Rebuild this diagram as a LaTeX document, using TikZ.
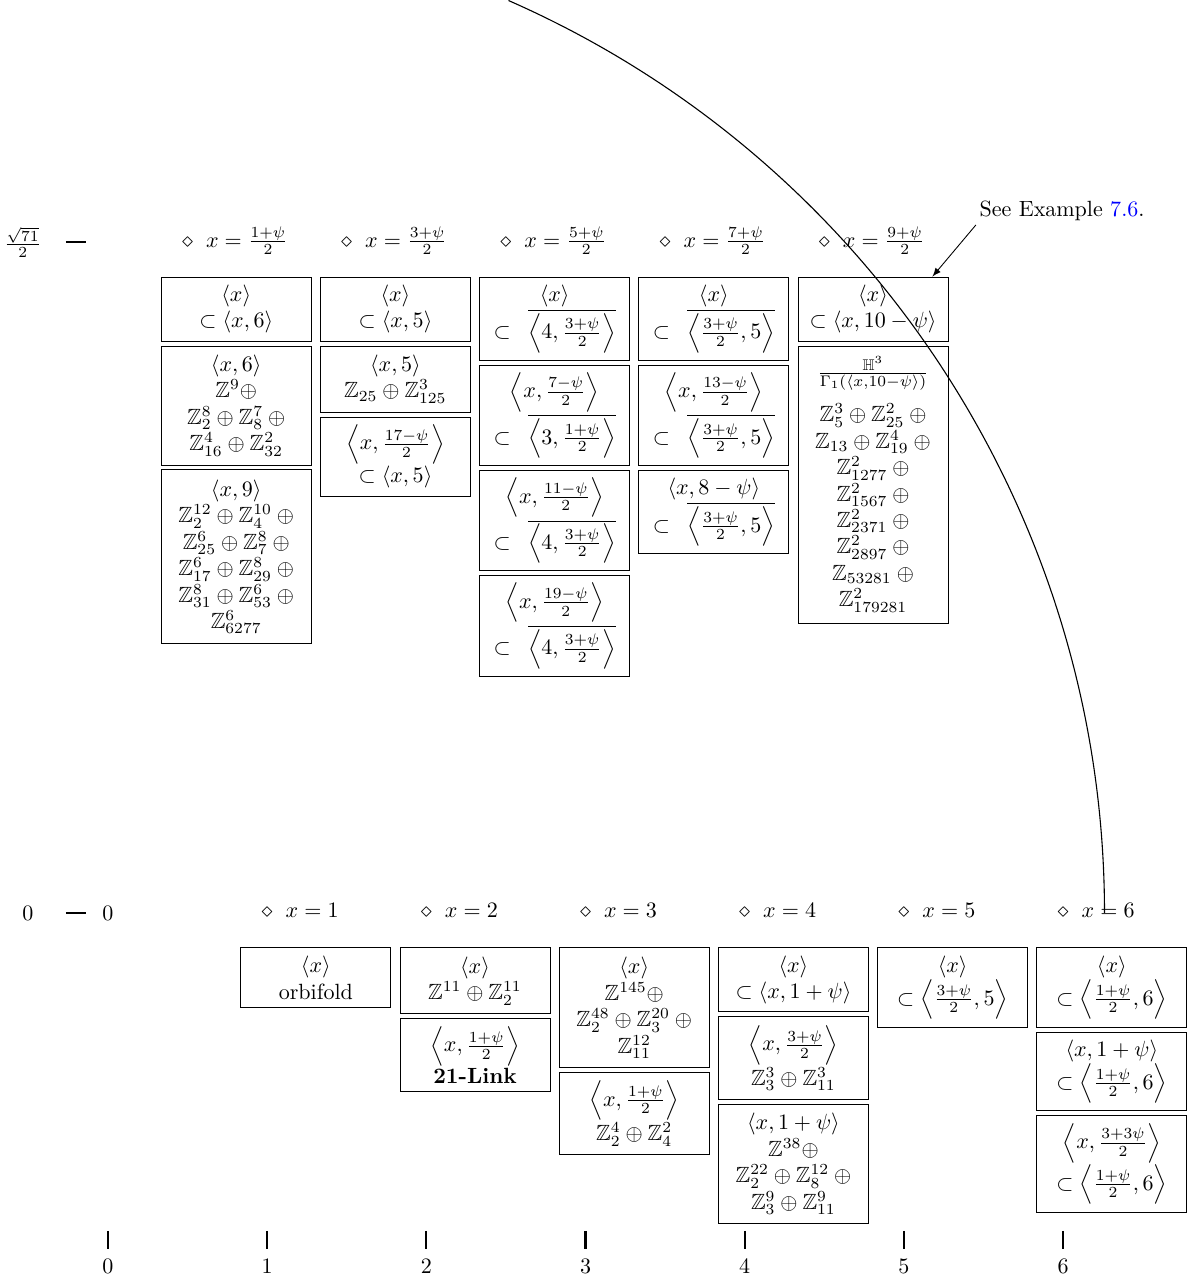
\documentclass[tikz,border=0pt]{standalone}
\usepackage{amsmath,amssymb}
\usetikzlibrary{positioning}
\newcommand{\Zb}{\mathbb{Z}}
\newcommand{\ang}[1]{\left\langle #1\right\rangle}
\newcommand{\hf}[1]{\frac{#1}{2}}
\newcommand{\ovang}[1]{\hspace{5pt}\overline{\left\langle #1\right\rangle}}
\begin{document}
\begin{tikzpicture}[x=2.54cm,y=2.54cm,
  cell/.style={draw, line width=0.4pt, minimum width=68.1pt, align=center, inner xsep=1pt, inner ysep=2pt, anchor=north},
  pt/.style={inner sep=0pt},
  lab/.style={inner sep=0pt, anchor=base west},
  tickmark/.style={line width=1pt},
  arcline/.style={line width=0.5pt},
  node distance=1.8pt]
\useasboundingbox (-0.678,-2.293) rectangle (6.803,5.735);

% left axis labels
\node[inner sep=0pt] (ys) at (-0.535,4.2131) {$\frac{\sqrt{71}}{2}$};
\draw[tickmark] (-0.264,4.2131) -- (-0.138,4.2131);
\node[inner sep=0pt] (y0) at (-0.503,0) {$0$};
\draw[tickmark] (-0.264,0) -- (-0.138,0);
\node (z0) at (0,0) {$0$};

% bottom axis
\foreach \i in {0,...,6} {
  \draw[tickmark] (\i,-1.997) -- (\i,-2.111);
  \node (ax\i) at (\i,-2.217) {$\i$};
}

% top row markers
\node[pt] (dt1) at (0.5,4.2131) {$\diamond$};
\node[lab] (lt1) at ([xshift=5.5pt]dt1.base east) {$x=\hf{1+\psi}$};
\node[pt] (dt2) at (1.5,4.2131) {$\diamond$};
\node[lab] (lt2) at ([xshift=5.5pt]dt2.base east) {$x=\hf{3+\psi}$};
\node[pt] (dt3) at (2.5,4.2131) {$\diamond$};
\node[lab] (lt3) at ([xshift=5.5pt]dt3.base east) {$x=\hf{5+\psi}$};
\node[pt] (dt4) at (3.5,4.2131) {$\diamond$};
\node[lab] (lt4) at ([xshift=5.5pt]dt4.base east) {$x=\hf{7+\psi}$};
\node[pt] (dt5) at (4.5,4.2131) {$\diamond$};
\node[lab] (lt5) at ([xshift=5.5pt]dt5.base east) {$x=\hf{9+\psi}$};

% bottom row markers
\foreach \i in {1,...,6} {
  \node[pt] (db\i) at (\i,0) {$\diamond$};
  \node[lab] (lb\i) at ([xshift=5.5pt]db\i.base east) {$x=\i$};
}

% top row boxes
\node[cell, minimum height=29.1pt] (t1a) at (0.806,3.997) {$\langle x\rangle$\\$\subset\langle x,6\rangle$};
\node[cell, minimum height=54pt, below=of t1a] (t1b) {$\langle x,6\rangle$\\$\Zb^{9}\oplus$\\$\Zb^{8}_{2}\oplus\Zb^{7}_{8}\:\oplus$\\$\Zb^{4}_{16}\oplus\Zb^{2}_{32}$};
\node[cell, minimum height=79pt, below=of t1b] (t1c) {$\langle x,9\rangle$\\$\Zb^{12}_{2}\oplus\Zb^{10}_{4}\:\oplus$\\$\Zb^{6}_{25}\oplus\Zb^{8}_{7}\:\oplus$\\$\Zb^{6}_{17}\oplus\Zb^{8}_{29}\:\oplus$\\$\Zb^{8}_{31}\oplus\Zb^{6}_{53}\:\oplus$\\$\Zb^{6}_{6277}$};

\node[cell, minimum height=29.1pt] (t2a) at (1.806,3.997) {$\langle x\rangle$\\$\subset\langle x,5\rangle$};
\node[cell, minimum height=30pt, below=of t2a] (t2b) {$\langle x,5\rangle$\\$\Zb_{25}\oplus\Zb^{3}_{125}$};
\node[cell, minimum height=35.9pt, below=of t2b] (t2c) {$\ang{x,\hf{17-\psi}}$\\$\subset\langle x,5\rangle$};

\node[cell, minimum height=37.7pt] (t3a) at (2.806,3.997) {$\langle x\rangle$\\$\subset\ovang{4,\hf{3+\psi}}$};
\node[cell, minimum height=45.8pt, below=of t3a] (t3b) {$\ang{x,\hf{7-\psi}}$\\$\subset\ovang{3,\hf{1+\psi}}$};
\node[cell, minimum height=45.4pt, below=of t3b] (t3c) {$\ang{x,\hf{11-\psi}}$\\$\subset\ovang{4,\hf{3+\psi}}$};
\node[cell, minimum height=45.8pt, below=of t3c] (t3d) {$\ang{x,\hf{19-\psi}}$\\$\subset\ovang{4,\hf{3+\psi}}$};

\node[cell, minimum height=37.7pt] (t4a) at (3.806,3.997) {$\langle x\rangle$\\$\subset\ovang{\hf{3+\psi},5}$};
\node[cell, minimum height=45.8pt, below=of t4a] (t4b) {$\ang{x,\hf{13-\psi}}$\\$\subset\ovang{\hf{3+\psi},5}$};
\node[cell, minimum height=37.7pt, below=of t4b] (t4c) {$\langle x,8-\psi\rangle$\\$\subset\ovang{\hf{3+\psi},5}$};

\node[cell, minimum height=29.1pt] (t5a) at (4.806,3.997) {$\langle x\rangle$\\$\subset\langle x,10-\psi\rangle$};
\node[cell, minimum height=125.7pt, below=of t5a] (t5b) {$\frac{\mathbb{H}^3}{\Gamma_1(\langle x,10-\psi\rangle)}$\\[5pt]$\Zb^{3}_{5}\oplus\Zb^{2}_{25}\:\oplus$\\$\Zb_{13}\oplus\Zb^{4}_{19}\:\oplus$\\$\Zb^{2}_{1277}\:\oplus$\\$\Zb^{2}_{1567}\:\oplus$\\$\Zb^{2}_{2371}\:\oplus$\\$\Zb^{2}_{2897}\:\oplus$\\$\Zb_{53281}\:\oplus$\\$\Zb^{2}_{179281}$};

% bottom row boxes
\node[cell, minimum height=27.2pt] (b1a) at (1.306,-0.216) {$\langle x\rangle$\\orbifold};

\node[cell, minimum height=30pt] (b2a) at (2.306,-0.216) {$\langle x\rangle$\\$\Zb^{11}\oplus\Zb^{11}_{2}$};
\node[cell, minimum height=33.1pt, below=of b2a] (b2b) {$\ang{x,\hf{1+\psi}}$\\\textbf{21-Link}};

\node[cell, minimum height=54.5pt] (b3a) at (3.306,-0.216) {$\langle x\rangle$\\$\Zb^{145}\oplus$\\$\Zb^{48}_{2}\oplus\Zb^{20}_{3}\:\oplus$\\$\Zb^{12}_{11}$};
\node[cell, minimum height=37.2pt, below=of b3a] (b3b) {$\ang{x,\hf{1+\psi}}$\\$\Zb^{4}_{2}\oplus\Zb^{2}_{4}$};

\node[cell, minimum height=29.1pt] (b4a) at (4.306,-0.216) {$\langle x\rangle$\\$\subset\langle x,1+\psi\rangle$};
\node[cell, minimum height=37.7pt, below=of b4a] (b4b) {$\ang{x,\hf{3+\psi}}$\\$\Zb^{3}_{3}\oplus\Zb^{3}_{11}$};
\node[cell, minimum height=54pt, below=of b4b] (b4c) {$\langle x,1+\psi\rangle$\\$\Zb^{38}\oplus$\\$\Zb^{22}_{2}\oplus\Zb^{12}_{8}\:\oplus$\\$\Zb^{9}_{3}\oplus\Zb^{9}_{11}$};

\node[cell, minimum height=36.3pt] (b5a) at (5.306,-0.216) {$\langle x\rangle$\\$\subset\ang{\hf{3+\psi},5}$};

\node[cell, minimum height=36.3pt] (b6a) at (6.306,-0.216) {$\langle x\rangle$\\$\subset\ang{\hf{1+\psi},6}$};
\node[cell, minimum height=35.4pt, below=of b6a] (b6b) {$\langle x,1+\psi\rangle$\\$\subset\ang{\hf{1+\psi},6}$};
\node[cell, minimum height=44pt, below=of b6b] (b6c) {$\ang{x,\hf{3+3\psi}}$\\$\subset\ang{\hf{1+\psi},6}$};

% arc
\draw[arcline] (66.3:6.26) arc[start angle=66.3, end angle=0, radius=6.26];

% annotation
\node[anchor=base west, inner sep=1.5pt] (see) at (5.452,4.372) {See Example \textcolor{blue}{7.6}.};
\draw[-latex] (see.south west) -- ([xshift=-7.3pt]t5a.north east);
\end{tikzpicture}
\end{document}
